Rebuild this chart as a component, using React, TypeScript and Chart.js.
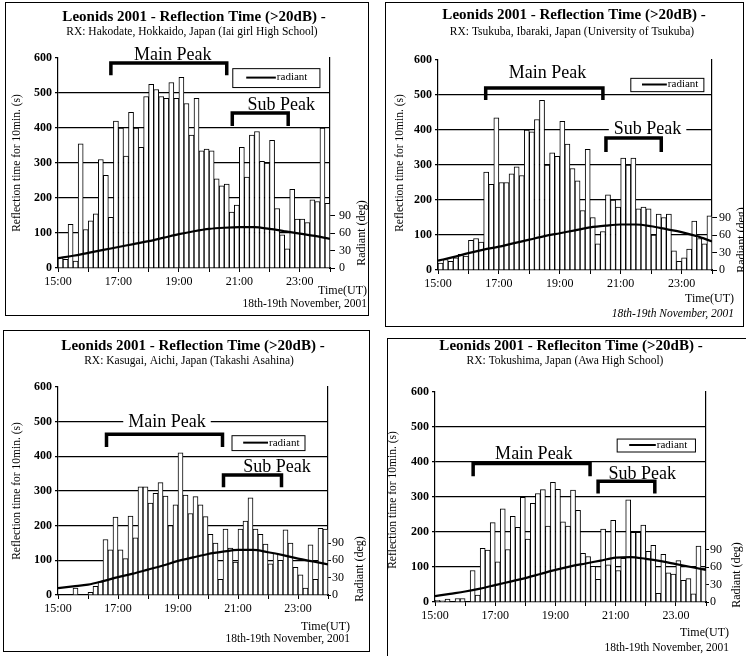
import React, { useEffect, useRef } from "react";
import { Chart, registerables } from "chart.js";

Chart.register(...registerables);

const FONT = '"Liberation Serif", "Times New Roman", serif';

// x-axis: minutes after 15:00 UT, 10-minute bins
const BIN_MINUTES = 10;
const X_MAX_MINUTES = 540;
const X_TICK_LABELS = ["15:00", "17:00", "19:00", "21:00", "23:00"];
const X_TICK_LABELS_TOKUSHIMA = ["15:00", "17:00", "19:00", "21:00", "23.00"];
const Y_TICKS_MAX = 600;
const Y2_MAX = 360;
const Y2_LABEL_MAX = 90;
const Y_TITLE = "Reflection time for 10min. (s)";
const Y2_TITLE = "Radiant (deg)";
const TIME_LABEL = "Time(UT)";
const DATE_LABEL = "18th-19th November, 2001";
const LEGEND_LABEL = "radiant";

const RADIANT_TIMES = [
  "15:00", "15:30", "16:00", "16:30", "17:00", "17:30", "18:00", "18:30", "19:00", "19:30",
  "20:00", "20:30", "21:00", "21:30", "22:00", "22:30", "23:00", "23:30", "24:00",
];

// Hakodate
const HAKODATE_BARS = [
  30, 25, 125, 20, 355, 110, 135, 155, 310, 265, 145, 420, 400, 320, 445, 400, 345, 490,
  525, 510, 490, 485, 530, 485, 545, 470, 380, 485, 335, 340, 335, 255, 235, 240, 160, 180,
  345, 260, 380, 390, 305, 300, 365, 170, 95, 55, 225, 140, 140, 130, 195, 190, 400, 185,
];
const HAKODATE_RADIANT = [17, 21, 26, 31, 36, 41, 46, 52, 58, 63, 67, 69, 70, 70, 67, 63, 59, 55, 50];

// Tsukuba
const TSUKUBA_BARS = [
  20, 30, 25, 35, 45, 40, 85, 90, 80, 280, 245, 435, 250, 250, 275, 295, 270, 400,
  395, 430, 485, 300, 335, 325, 425, 360, 290, 255, 170, 345, 150, 75, 110, 215, 200, 180,
  320, 300, 320, 175, 180, 175, 100, 160, 150, 160, 55, 25, 35, 60, 140, 90, 75, 155,
];
const TSUKUBA_RADIANT = [16, 22, 29, 35, 40, 46, 52, 58, 63, 68, 73, 76, 78, 78, 75, 70, 65, 58, 49];

// Kasugai
const KASUGAI_BARS = [
  0, 0, 0, 20, 0, 0, 8, 25, 38, 160, 130, 225, 130, 105, 228, 165, 312, 312,
  265, 293, 324, 285, 200, 260, 410, 288, 235, 284, 260, 226, 175, 150, 45, 190, 135, 95,
  190, 213, 280, 190, 175, 147, 90, 120, 100, 188, 150, 80, 58, 20, 145, 45, 192, 190,
];
const KASUGAI_RADIANT = [12, 15, 18, 24, 31, 37, 44, 51, 59, 65, 71, 75, 78, 78, 74, 69, 63, 58, 53];

// Tokushima
const TOKUSHIMA_BARS = [
  5, 3, 8, 0, 10, 10, 0, 90, 20, 153, 148, 227, 115, 266, 150, 245, 213, 299,
  180, 282, 310, 321, 217, 342, 322, 229, 217, 320, 262, 139, 130, 102, 65, 208, 106, 233,
  90, 125, 292, 199, 199, 220, 145, 162, 25, 136, 83, 80, 118, 62, 67, 23, 160, 97,
];
const TOKUSHIMA_RADIANT = [10, 14, 18, 23, 29, 35, 41, 48, 55, 61, 66, 71, 76, 77, 74, 70, 65, 60, 55];

type Bracket = { x0: number; x1: number; top: number; end: number; tx: number; ty: number; label: string };

type PanelCfg = {
  title: string;
  subtitle: string;
  bars: number[];
  radiant: number[];
  xLabels: string[];
  box: { x: number; y: number; w: number; h: number };
  pad: { left: number; right: number; top: number; bottom: number };
  y2Tick: { len: number; pad: number };
  titleX: number; titleY: number; subX: number; subY: number;
  yTitleX: number; yTitleY: number; y2TitleX: number; y2TitleY: number;
  timeRight: number; timeY: number; dateY: number; dateItalic: boolean;
  main: Bracket; sub: Bracket;
  legend: { x0: number; x1: number; top: number; bottom: number };
};

const PANELS: PanelCfg[] = [
  {
    title: "Leonids 2001 - Reflection Time (>20dB) -",
    subtitle: "RX: Hakodate, Hokkaido, Japan (Iai girl High School)",
    bars: HAKODATE_BARS,
    radiant: HAKODATE_RADIANT,
    xLabels: X_TICK_LABELS,
    box: { x: 5, y: 2, w: 364, h: 314 },
    pad: { left: 53, right: 39, top: 56, bottom: 48 },
    y2Tick: { len: 5, pad: 4 },
    titleX: 194, titleY: 17, subX: 192, subY: 32,
    yTitleX: 17, yTitleY: 163, y2TitleX: 362, y2TitleY: 233,
    timeRight: 367, timeY: 291, dateY: 304, dateItalic: false,
    main: { x0: 105, x1: 335, top: 586, end: 551, tx: 228, ty: 612, label: "Main Peak" },
    sub: { x0: 346, x1: 457, top: 443, end: 406, tx: 443, ty: 468, label: "Sub Peak" },
    legend: { x0: 346, x1: 519, top: 571, bottom: 517 },
  },
  {
    title: "Leonids 2001 - Reflection Time (>20dB) -",
    subtitle: "RX: Tsukuba, Ibaraki, Japan (University of Tsukuba)",
    bars: TSUKUBA_BARS,
    radiant: TSUKUBA_RADIANT,
    xLabels: X_TICK_LABELS,
    box: { x: 385, y: 2, w: 359, h: 325 },
    pad: { left: 53, right: 32, top: 58, bottom: 57 },
    y2Tick: { len: 5, pad: 2 },
    titleX: 574, titleY: 15, subX: 572, subY: 32,
    yTitleX: 400, yTitleY: 163, y2TitleX: 742, y2TitleY: 240,
    timeRight: 734, timeY: 299, dateY: 314, dateItalic: true,
    main: { x0: 94, x1: 325, top: 520, end: 486, tx: 216, ty: 566, label: "Main Peak" },
    sub: { x0: 331, x1: 440, top: 377, end: 337, tx: 413, ty: 406, label: "Sub Peak" },
    legend: { x0: 379, x1: 523, top: 549, bottom: 511 },
  },
  {
    title: "Leonids 2001 - Reflection Time (>20dB) -",
    subtitle: "RX: Kasugai, Aichi, Japan (Takashi Asahina)",
    bars: KASUGAI_BARS,
    radiant: KASUGAI_RADIANT,
    xLabels: X_TICK_LABELS,
    box: { x: 3, y: 330, w: 367, h: 322 },
    pad: { left: 55, right: 42, top: 57, bottom: 57 },
    y2Tick: { len: 3, pad: 1 },
    titleX: 193, titleY: 346, subX: 189, subY: 361,
    yTitleX: 17, yTitleY: 491, y2TitleX: 360, y2TitleY: 569,
    timeRight: 350, timeY: 627, dateY: 639, dateItalic: false,
    main: { x0: 97, x1: 329, top: 464, end: 427, tx: 218, ty: 501, label: "Main Peak" },
    sub: { x0: 331, x1: 447, top: 346, end: 311, tx: 438, ty: 371, label: "Sub Peak" },
    legend: { x0: 347, x1: 493, top: 461, bottom: 418 },
  },
  {
    title: "Leonids 2001 - Refleciton Time (>20dB) -",
    subtitle: "RX: Tokushima, Japan (Awa High School)",
    bars: TOKUSHIMA_BARS,
    radiant: TOKUSHIMA_RADIANT,
    xLabels: X_TICK_LABELS_TOKUSHIMA,
    box: { x: 387, y: 338, w: 365, h: 325 },
    pad: { left: 48, right: 46, top: 54, bottom: 61 },
    y2Tick: { len: 3, pad: 1 },
    titleX: 571, titleY: 346, subX: 565, subY: 361,
    yTitleX: 393, yTitleY: 500, y2TitleX: 737, y2TitleY: 575,
    timeRight: 729, timeY: 633, dateY: 648, dateItalic: false,
    main: { x0: 76, x1: 309, top: 396, end: 359, tx: 197, ty: 426, label: "Main Peak" },
    sub: { x0: 325, x1: 438, top: 345, end: 310, tx: 413, ty: 368, label: "Sub Peak" },
    legend: { x0: 362, x1: 518, top: 467, bottom: 430 },
  },
];

function toMinutes(t: string): number {
  const [h, m] = t.split(":").map(Number);
  return (h - 15) * 60 + m;
}

function PanelChart({ cfg }: { cfg: PanelCfg }) {
  const ref = useRef<HTMLCanvasElement>(null);

  useEffect(() => {
    const canvas = ref.current;
    if (!canvas) return;
    const ox = cfg.box.x;
    const oy = cfg.box.y;
    const plotWidth = cfg.box.w - cfg.pad.left - cfg.pad.right;
    const barThickness = plotWidth / (X_MAX_MINUTES / BIN_MINUTES);

    const annot = {
      id: "annot",
      afterDraw(chart: any) {
        const ctx = chart.ctx as CanvasRenderingContext2D;
        const xs = chart.scales.x;
        const ys = chart.scales.y;
        ctx.save();
        ctx.fillStyle = "#000";
        ctx.strokeStyle = "#000";
        ctx.textAlign = "center";
        ctx.textBaseline = "middle";

        ctx.font = `bold 15px ${FONT}`;
        ctx.fillText(cfg.title, cfg.titleX - ox, cfg.titleY - oy);
        ctx.font = `11.5px ${FONT}`;
        ctx.fillText(cfg.subtitle, cfg.subX - ox, cfg.subY - oy);

        ctx.save();
        ctx.translate(cfg.yTitleX - ox, cfg.yTitleY - oy);
        ctx.rotate(-Math.PI / 2);
        ctx.font = `11.5px ${FONT}`;
        ctx.fillText(Y_TITLE, 0, 0);
        ctx.restore();

        ctx.save();
        ctx.translate(cfg.y2TitleX - ox, cfg.y2TitleY - oy);
        ctx.rotate(-Math.PI / 2);
        ctx.font = `12px ${FONT}`;
        ctx.fillText(Y2_TITLE, 0, 0);
        ctx.restore();

        ctx.textAlign = "right";
        ctx.font = `12px ${FONT}`;
        ctx.fillText(TIME_LABEL, cfg.timeRight - ox, cfg.timeY - oy);
        ctx.font = `${cfg.dateItalic ? "italic " : ""}11.5px ${FONT}`;
        ctx.fillText(DATE_LABEL, cfg.timeRight - ox, cfg.dateY - oy);

        // peak labels (white background hides the gridline behind them)
        const drawLabel = (b: Bracket) => {
          ctx.font = `18px ${FONT}`;
          ctx.textAlign = "center";
          const tx = xs.getPixelForValue(b.tx);
          const ty = ys.getPixelForValue(b.ty);
          const w = ctx.measureText(b.label).width;
          ctx.fillStyle = "#fff";
          ctx.fillRect(tx - w / 2 - 5, ty - 8, w + 10, 16);
          ctx.fillStyle = "#000";
          ctx.fillText(b.label, tx, ty + 1);
        };
        const drawBracket = (b: Bracket) => {
          const x0 = xs.getPixelForValue(b.x0);
          const x1 = xs.getPixelForValue(b.x1);
          const yt = ys.getPixelForValue(b.top);
          const ye = ys.getPixelForValue(b.end);
          ctx.lineWidth = 3.5;
          ctx.lineJoin = "miter";
          ctx.lineCap = "butt";
          ctx.beginPath();
          ctx.moveTo(x0, ye);
          ctx.lineTo(x0, yt);
          ctx.lineTo(x1, yt);
          ctx.lineTo(x1, ye);
          ctx.stroke();
        };
        drawLabel(cfg.main);
        drawLabel(cfg.sub);
        drawBracket(cfg.main);
        drawBracket(cfg.sub);

        const lx0 = xs.getPixelForValue(cfg.legend.x0);
        const lx1 = xs.getPixelForValue(cfg.legend.x1);
        const lt = ys.getPixelForValue(cfg.legend.top);
        const lb = ys.getPixelForValue(cfg.legend.bottom);
        ctx.fillStyle = "#fff";
        ctx.fillRect(lx0, lt, lx1 - lx0, lb - lt);
        ctx.lineWidth = 1;
        ctx.strokeRect(lx0 + 0.5, lt + 0.5, lx1 - lx0, lb - lt);
        const my = (lt + lb) / 2;
        const ls = lx0 + 0.16 * (lx1 - lx0);
        const le = lx0 + 0.5 * (lx1 - lx0);
        ctx.lineWidth = 2;
        ctx.beginPath();
        ctx.moveTo(ls, my);
        ctx.lineTo(le, my);
        ctx.stroke();
        ctx.fillStyle = "#000";
        ctx.textAlign = "left";
        ctx.font = `11px ${FONT}`;
        ctx.fillText(LEGEND_LABEL, le + 1, my);

        ctx.restore();
      },
    };

    const chart = new Chart(canvas, {
      type: "bar",
      data: {
        datasets: [
          {
            type: "line",
            label: LEGEND_LABEL,
            data: cfg.radiant.map((v, i) => ({ x: toMinutes(RADIANT_TIMES[i]), y: v })),
            yAxisID: "y2",
            xAxisID: "x",
            borderColor: "#000",
            borderWidth: 2.2,
            pointRadius: 0,
            cubicInterpolationMode: "monotone",
            order: 0,
          } as any,
          {
            type: "bar",
            label: "reflection time",
            data: cfg.bars.map((v, i) => ({ x: i * BIN_MINUTES + BIN_MINUTES / 2, y: v })),
            yAxisID: "y",
            xAxisID: "x",
            backgroundColor: "#fff",
            borderColor: "#000",
            borderWidth: 1,
            barThickness,
            grouped: false,
            order: 1,
          } as any,
        ],
      },
      options: {
        responsive: false,
        animation: false,
        events: [],
        layout: { padding: { left: 0, right: 0, top: cfg.pad.top, bottom: 0 } },
        scales: {
          x: {
            type: "linear",
            position: "bottom",
            min: 0,
            max: X_MAX_MINUTES,
            offset: false,
            afterFit: (s: any) => {
              s.height = cfg.pad.bottom;
            },
            ticks: {
              stepSize: 60,
              autoSkip: false,
              maxRotation: 0,
              padding: 3,
              color: "#000",
              font: { family: FONT, size: 12 },
              callback: (v: any) => (Number(v) % 120 === 0 ? cfg.xLabels[Number(v) / 120] ?? "" : ""),
            },
            grid: { drawOnChartArea: false, offset: false, tickLength: 4, color: "#000", lineWidth: 1 },
            border: { color: "#000", width: 1.2 },
          },
          y: {
            position: "left",
            min: 0,
            max: Y_TICKS_MAX,
            afterFit: (s: any) => {
              s.width = cfg.pad.left;
            },
            ticks: { stepSize: 100, padding: 3, color: "#000", font: { family: FONT, size: 12, weight: "bold" } },
            grid: {
              color: (c: any) => (c.tick && c.tick.value > 0 && c.tick.value < Y_TICKS_MAX ? "#000" : "rgba(0,0,0,0)"),
              tickColor: "#000",
              tickLength: 3,
              lineWidth: 1.2,
            },
            border: { color: "#000", width: 1.2 },
          },
          y2: {
            position: "right",
            min: 0,
            max: Y2_MAX,
            afterBuildTicks: (s: any) => {
              s.ticks = s.ticks.filter((t: any) => t.value <= Y2_LABEL_MAX);
            },
            afterFit: (s: any) => {
              s.width = cfg.pad.right;
            },
            ticks: { stepSize: 30, padding: cfg.y2Tick.pad, color: "#000", font: { family: FONT, size: 12 } },
            grid: { drawOnChartArea: false, tickLength: cfg.y2Tick.len, color: "#000", lineWidth: 1 },
            border: { color: "#000", width: 1.2 },
          },
        },
        plugins: {
          legend: { display: false },
          tooltip: { enabled: false },
          title: { display: false },
        },
      } as any,
      plugins: [annot],
    });
    return () => chart.destroy();
  }, [cfg]);

  return (
    <div
      style={{
        position: "absolute",
        left: cfg.box.x,
        top: cfg.box.y,
        width: cfg.box.w,
        height: cfg.box.h,
      }}
    >
      <canvas
        ref={ref}
        width={cfg.box.w}
        height={cfg.box.h}
        style={{ position: "absolute", left: 0, top: 0, width: cfg.box.w, height: cfg.box.h }}
      />
      <div
        style={{
          position: "absolute",
          left: 0,
          top: 0,
          width: cfg.box.w,
          height: cfg.box.h,
          border: "1.5px solid #000",
          boxSizing: "border-box",
          pointerEvents: "none",
        }}
      />
    </div>
  );
}

export default function App() {
  return (
    <div
      style={{
        position: "absolute",
        left: 0,
        top: 0,
        width: 746,
        height: 656,
        overflow: "hidden",
        background: "#fff",
      }}
    >
      {PANELS.map((p, i) => (
        <PanelChart key={i} cfg={p} />
      ))}
    </div>
  );
}
